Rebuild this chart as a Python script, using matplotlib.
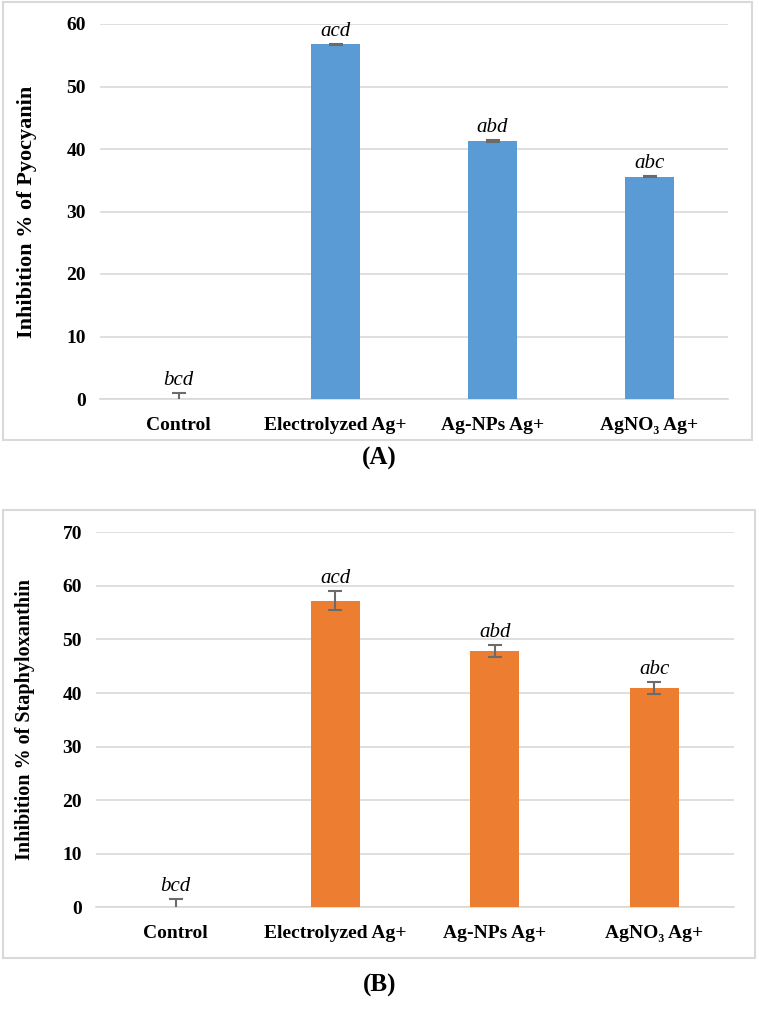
import matplotlib.pyplot as plt
from matplotlib.patches import Rectangle

# data
categories = ["Control", "Electrolyzed Ag+", "Ag-NPs Ag+", "AgNO\u2083 Ag+"]
pyocyanin = [0.0, 56.75, 41.3, 35.6]
pyocyanin_err = [1.0, 0.12, 0.12, 0.12]
staphylo = [0.0, 57.2, 47.85, 40.9]
staphylo_err = [1.5, 1.75, 1.2, 1.15]
letters = ["bcd", "acd", "abd", "abc"]

plt.rcParams['font.family'] = ['Liberation Serif', 'DejaVu Serif']

fig = plt.figure(figsize=(7.59, 10.10), dpi=100)

# light gray frames round each panel
fig.patches.append(Rectangle((3/759, 1-440/1010), 749/759, 438/1010, transform=fig.transFigure,
                             fill=False, edgecolor='#d9d9d9', linewidth=1.5))
fig.patches.append(Rectangle((3/759, 1-958/1010), 752/759, 448/1010, transform=fig.transFigure,
                             fill=False, edgecolor='#d9d9d9', linewidth=1.5))

def panel(ax, vals, errs, color, ymax, ylabel, ylab_size, lab_pad):
    x = range(len(categories))
    ax.bar(x, vals, width=0.31, color=color, zorder=3)
    ax.errorbar(x, vals, yerr=errs, fmt='none', ecolor='#6b6b6b', elinewidth=1.5,
                capsize=5, capthick=1.5, zorder=4)
    for i in x:
        top = vals[i] + errs[i]
        ax.text(i, top + ymax*0.008, letters[i], ha='center', va='bottom',
                fontsize=15, style='italic', zorder=5)
    ax.set_xlim(-0.5, 3.5)
    ax.set_ylim(0, ymax)
    ax.set_yticks(range(0, ymax+1, 10))
    ax.yaxis.grid(True, color='#d9d9d9', linewidth=1.2, zorder=0)
    ax.set_axisbelow(True)
    for s in ['top', 'right', 'left']:
        ax.spines[s].set_visible(False)
    ax.spines['bottom'].set_color('#d9d9d9')
    ax.spines['bottom'].set_linewidth(1.2)
    ax.tick_params(axis='both', length=0, labelsize=14, pad=10)
    ax.set_xticks(list(x))
    ax.set_xticklabels(categories, fontweight='bold')
    for t in ax.get_yticklabels():
        t.set_fontweight('bold')
    ax.tick_params(axis='x', pad=13)
    ax.set_ylabel(ylabel, fontsize=ylab_size, fontweight='bold', labelpad=lab_pad)

ax1 = fig.add_axes([100/759, 1-399/1010, 628/759, 375/1010])
panel(ax1, pyocyanin, pyocyanin_err, '#5b9bd5', 60, "Inhibition % of Pyocyanin", 16, 21)

ax2 = fig.add_axes([96/759, 1-907.3/1010, 638/759, 375/1010])
panel(ax2, staphylo, staphylo_err, '#ed7d31', 70, "Inhibition % of Staphyloxanthin", 14.5, 20)

fig.text(0.5, 1-458/1010, "(A)", ha='center', va='center', fontsize=18, fontweight='bold')
fig.text(0.5, 1-985/1010, "(B)", ha='center', va='center', fontsize=18, fontweight='bold')

plt.savefig('out.png', dpi=100)
